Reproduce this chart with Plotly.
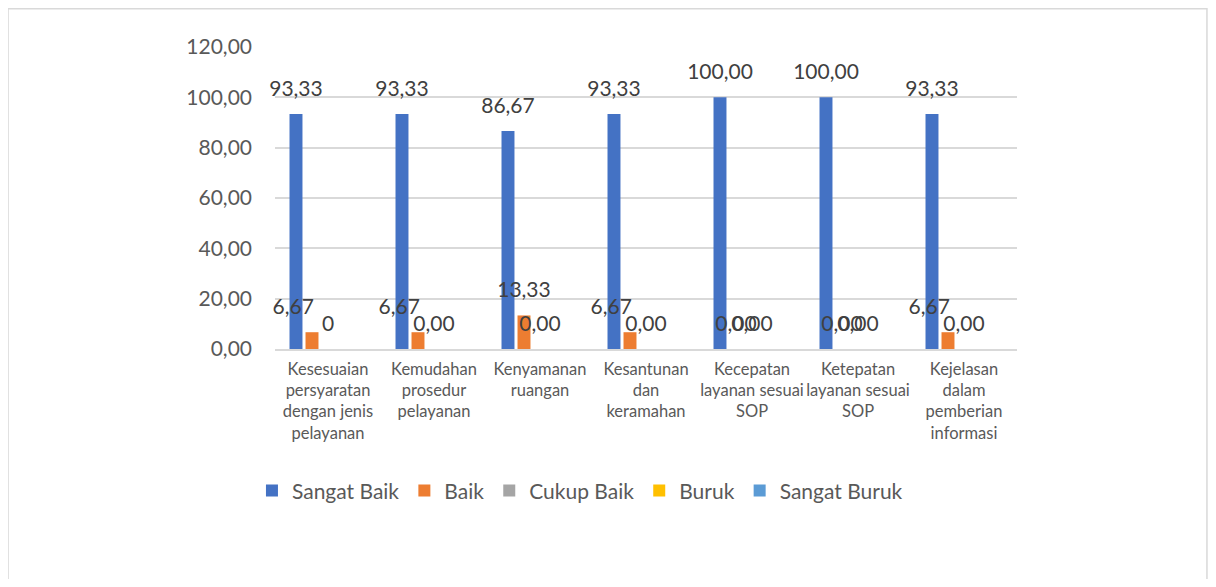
import plotly.graph_objects as go

categories = [
    "Kesesuaian<br>persyaratan<br>dengan jenis<br>pelayanan",
    "Kemudahan<br>prosedur<br>pelayanan",
    "Kenyamanan<br>ruangan",
    "Kesantunan<br>dan<br>keramahan",
    "Kecepatan<br>layanan sesuai<br>SOP",
    "Ketepatan<br>layanan sesuai<br>SOP",
    "Kejelasan<br>dalam<br>pemberian<br>informasi",
]
series_names = ["Sangat Baik", "Baik", "Cukup Baik", "Buruk", "Sangat Buruk"]
sangat_baik = [93.33, 93.33, 86.67, 93.33, 100.00, 100.00, 93.33]
baik = [6.67, 6.67, 13.33, 6.67, 0.00, 0.00, 6.67]
cukup_baik = [0, 0, 0, 0, 0, 0, 0]
buruk = [0, 0, 0, 0, 0, 0, 0]
sangat_buruk = [0, 0, 0, 0, 0, 0, 0]
sangat_baik_labels = ["93,33", "93,33", "86,67", "93,33", "100,00", "100,00", "93,33"]
baik_labels = ["6,67", "6,67", "13,33", "6,67", "0,00", "0,00", "6,67"]
cukup_baik_labels = ["0", "0,00", "0,00", "0,00", "0,00", "0,00", "0,00"]
tick_vals = [0, 20, 40, 60, 80, 100, 120]
tick_text = ["0,00", "20,00", "40,00", "60,00", "80,00", "100,00", "120,00"]

colors = ["#4472C4", "#ED7D31", "#A5A5A5", "#FFC000", "#5B9BD5"]
FONT = "Lato"
TXT = "#595959"
LABEL_SIZE = 21

# Small "Baik" labels were nudged left in the original to avoid the zero labels
NBSP = "\u00a0"
baik_labels_styled = [
    lab + NBSP * 7 if 0 < v < 10 else lab for lab, v in zip(baik_labels, baik)
]

values = [sangat_baik, baik, cukup_baik, buruk, sangat_buruk]
labels = [sangat_baik_labels, baik_labels_styled, cukup_baik_labels, None, None]

fig = go.Figure()
for name, vals, lab, col in zip(series_names, values, labels, colors):
    kw = {}
    if lab is not None:
        kw = dict(text=lab,
                  texttemplate=f"<span style='font-size:{LABEL_SIZE}px'>%{{text}}</span><br> ",
                  textposition="outside",
                  constraintext="none", cliponaxis=False, textangle=0,
                  textfont=dict(family=FONT, size=10, color="#404040"))
    fig.add_trace(go.Bar(x=categories, y=vals, name=name, marker_color=col,
                         marker_line_width=0, hoverinfo="skip", **kw))

fig.update_layout(
    width=1200, height=571,
    margin=dict(l=267, r=191, t=39, b=230),
    paper_bgcolor="white", plot_bgcolor="white",
    barmode="group", bargap=0.245, bargroupgap=0.19,
    font=dict(family=FONT, color=TXT),
    showlegend=True,
    legend=dict(orientation="h", x=0.411, xanchor="center", y=-0.47, yanchor="middle",
                font=dict(family=FONT, size=21, color=TXT), itemwidth=30,
                traceorder="normal"),
    uniformtext=dict(mode=False),
    shapes=[dict(type="rect", xref="paper", yref="paper",
                 x0=-0.3598, x1=1.256, y0=-0.9, y1=1.127,
                 line=dict(color="#D9D9D9", width=1.5), fillcolor="rgba(0,0,0,0)", layer="below")],
)
fig.update_xaxes(showline=True, linecolor="#D9D9D9", linewidth=1.5, ticks="",
                 tickfont=dict(family=FONT, size=16.5, color=TXT), tickangle=0,
                 ticklabelstandoff=4)
fig.update_yaxes(range=[0, 120], tickvals=tick_vals, ticktext=tick_text,
                 showgrid=True, gridcolor="#D9D9D9", gridwidth=1.5, zeroline=False,
                 showline=False, ticks="", ticklabelstandoff=22,
                 tickfont=dict(family=FONT, size=21, color=TXT))

fig.write_html("out.html")
